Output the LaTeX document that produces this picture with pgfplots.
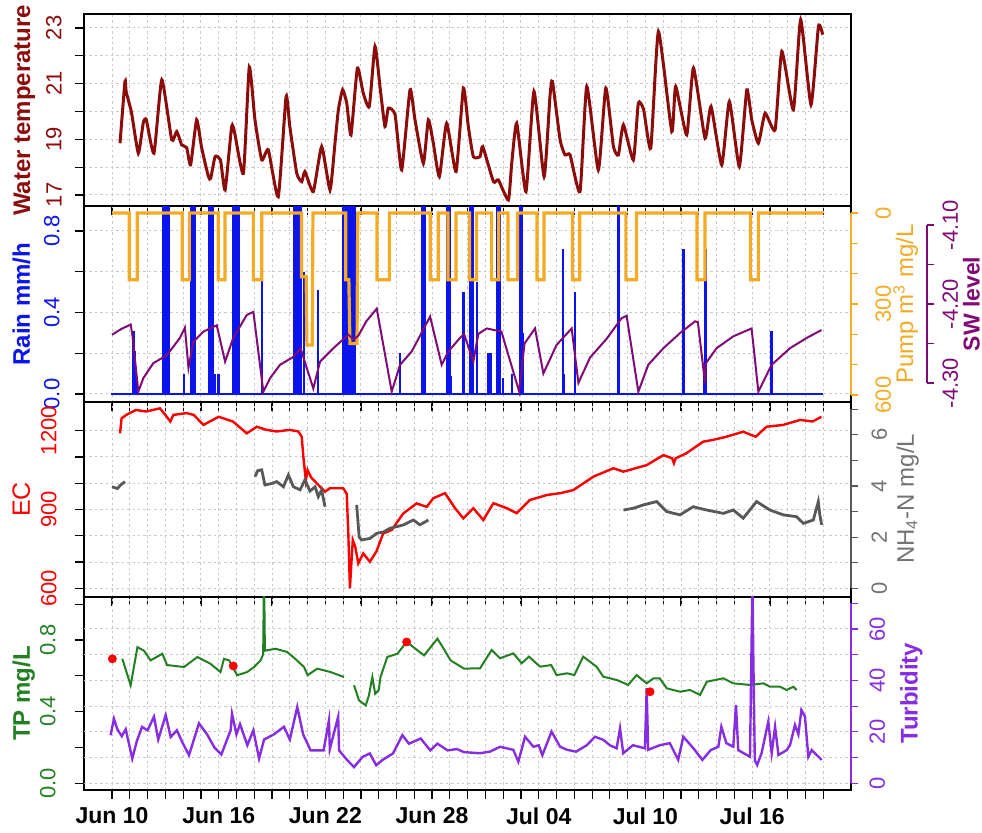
\documentclass[border=0pt]{standalone}
\usepackage{fontspec}
\setmainfont{Liberation Sans}
\usepackage{pgfplots}
\pgfplotsset{compat=1.18}
\usepackage{pgfplotstable}

\definecolor{tempc}{RGB}{140,12,12}
\definecolor{rainc}{RGB}{10,20,235}
\definecolor{pumpc}{RGB}{245,170,35}
\definecolor{swc}{RGB}{128,10,118}
\definecolor{ecc}{RGB}{250,0,0}
\definecolor{nhc}{RGB}{88,88,88}
\definecolor{nhlab}{RGB}{115,115,115}
\definecolor{tpc}{RGB}{34,128,34}
\definecolor{turbc}{RGB}{135,45,225}
\definecolor{gridc}{RGB}{200,200,200}

% x = days after 10 June
\pgfplotstableread{
day T
0.45 18.86
0.73 21.08
0.80 20.70
1.10 19.95
1.48 18.50
1.76 19.60
1.93 19.70
2.36 18.50
2.80 21.14
3.36 18.98
3.64 19.28
3.92 18.80
4.20 18.70
4.42 18.08
4.76 19.70
5.04 18.70
5.42 17.66
5.55 17.60
5.80 18.38
6.10 18.26
6.36 17.18
6.73 19.46
6.90 19.22
7.39 17.78
7.72 21.60
8.04 19.70
8.42 18.26
8.79 18.62
9.35 16.94
9.79 20.54
10.00 19.46
10.39 17.78
10.67 17.48
10.85 17.84
11.32 17.12
11.79 18.74
12.26 17.18
12.54 18.86
12.73 20.06
12.97 20.78
13.20 20.30
13.44 19.16
13.80 21.56
14.13 20.66
14.47 20.18
14.79 22.34
15.07 20.90
15.35 19.46
15.54 20.12
15.92 19.88
16.29 17.90
16.76 20.78
17.04 19.70
17.51 18.14
17.79 19.70
18.07 18.86
18.41 17.66
18.82 19.58
19.35 17.84
19.76 20.84
20.04 19.46
20.32 18.38
20.70 18.38
20.85 18.74
21.45 17.48
21.73 17.54
22.29 16.82
22.48 18.14
22.76 19.58
23.28 17.12
23.73 20.72
24.30 17.66
24.63 20.54
24.77 21.08
25.20 18.98
25.48 18.44
25.76 18.44
26.32 17.12
26.70 20.90
27.35 17.90
27.77 20.84
28.20 18.74
28.48 18.44
28.76 19.52
29.32 18.26
29.60 20.30
29.90 20.06
30.30 18.68
30.73 22.87
31.48 19.28
31.70 20.90
32.32 19.16
32.70 21.56
33.35 19.04
33.69 20.18
34.29 18.08
34.72 20.36
35.28 18.02
35.70 20.78
35.98 19.70
36.35 18.86
36.73 19.94
37.29 19.34
37.67 22.16
38.32 20.06
38.73 23.30
39.31 20.24
39.73 23.06
39.97 22.76
}\temptab

% hourly rain, mm/h (values above the panel are cut off)
\pgfplotstableread{
day R
1.17 0.30
1.24 0.31
1.31 0.21
1.38 0.08
2.90 1.2
2.97 1.2
3.04 1.2
3.11 1.2
3.18 1.2
4.06 0.10
4.47 1.2
4.54 1.2
4.61 1.2
4.68 1.2
5.44 1.2
5.51 1.2
5.58 1.2
5.65 1.2
5.79 0.10
5.98 0.10
6.84 1.2
6.91 1.2
6.98 1.2
7.05 1.2
7.12 1.2
8.42 0.56
10.22 1.2
10.29 1.2
10.36 1.2
10.43 1.2
10.50 1.2
10.57 1.2
10.64 1.2
10.80 0.60
11.59 0.51
13.00 1.2
13.07 1.2
13.14 1.2
13.21 1.2
13.28 1.2
13.35 1.2
13.42 1.2
13.49 1.2
13.56 1.2
13.63 1.2
16.20 0.20
17.42 1.2
17.50 1.2
17.58 1.2
18.84 1.2
18.91 1.2
18.98 1.2
19.08 0.09
19.76 0.50
20.14 1.2
20.21 1.2
20.28 1.2
20.51 0.55
21.15 0.20
21.22 0.20
21.30 0.20
21.66 1.2
21.74 1.2
21.81 1.2
21.99 0.08
22.48 0.10
22.96 1.2
23.03 1.2
23.10 0.30
25.37 0.71
25.42 0.10
26.04 0.50
28.48 1.2
32.13 0.71
33.30 0.10
33.37 0.71
37.10 0.31
}\raintab

% shallow water level
\pgfplotstableread{
day L
0.00 -4.239
0.50 -4.232
1.05 -4.226
1.15 -4.240
1.48 -4.311
1.76 -4.294
2.32 -4.275
3.08 -4.265
3.82 -4.243
4.10 -4.230
4.30 -4.281
4.57 -4.248
5.14 -4.235
5.89 -4.227
6.36 -4.273
6.82 -4.243
7.58 -4.214
7.95 -4.210
8.51 -4.311
8.89 -4.294
9.45 -4.277
10.20 -4.267
10.60 -4.256
11.32 -4.307
11.70 -4.273
12.45 -4.256
13.29 -4.239
13.60 -4.245
13.86 -4.240
14.30 -4.222
14.89 -4.206
15.73 -4.311
16.20 -4.277
16.86 -4.260
17.89 -4.216
18.54 -4.277
18.92 -4.260
19.57 -4.243
19.80 -4.238
20.32 -4.273
20.60 -4.238
21.07 -4.231
21.90 -4.235
22.90 -4.311
23.20 -4.250
23.79 -4.231
24.26 -4.288
25.00 -4.252
25.85 -4.231
26.23 -4.300
26.88 -4.268
27.82 -4.244
28.66 -4.218
28.94 -4.215
29.60 -4.311
30.16 -4.277
31.01 -4.256
31.94 -4.237
32.79 -4.222
32.95 -4.223
33.35 -4.300
33.40 -4.275
34.00 -4.256
34.94 -4.241
35.97 -4.231
36.35 -4.311
37.10 -4.277
38.13 -4.256
39.07 -4.243
39.90 -4.233
}\swtab

% electrical conductivity
\pgfplotstableread{
day EC
0.45 1190
0.54 1247
0.80 1260
1.35 1279
1.92 1273
2.70 1285
3.00 1260
3.28 1235
3.45 1260
4.20 1267
4.60 1260
5.14 1222
6.00 1253
6.80 1235
7.58 1190
8.14 1215
8.70 1203
9.26 1197
10.00 1203
10.48 1197
10.67 1177
10.76 1101
10.90 1012
11.00 1050
11.20 1022
11.70 987
11.98 968
12.26 981
13.00 981
13.20 960
13.29 809
13.38 600
13.54 784
13.68 758
13.85 695
14.13 733
14.50 701
14.87 740
15.25 809
15.73 822
16.38 885
17.13 923
17.70 910
18.07 943
18.73 962
19.29 905
19.76 866
20.32 905
20.88 860
21.45 924
22.20 905
22.76 886
23.50 936
24.45 955
25.20 962
25.95 974
27.07 1025
28.20 1057
28.76 1044
30.07 1069
31.01 1107
31.50 1095
31.60 1076
31.70 1095
32.30 1114
33.24 1158
33.80 1165
34.55 1177
35.50 1196
36.20 1177
36.81 1215
37.75 1222
38.70 1241
39.40 1235
39.90 1253
}\ectab

% ammonium, gaps between logger runs
\pgfplotstableread{
day N
0.00 3.97
0.30 3.90
0.50 4.05
0.73 4.17
0.80 nan
8.04 4.37
8.20 4.60
8.42 4.63
8.60 4.04
9.00 4.10
9.26 4.17
9.64 3.97
9.92 4.43
10.20 3.97
10.58 3.85
10.85 4.24
11.13 3.80
11.42 3.97
11.60 3.58
11.79 3.84
11.98 3.19
12.10 nan
13.76 3.26
13.90 2.00
14.04 1.89
14.51 1.95
14.89 2.15
15.26 2.20
15.64 2.35
16.01 2.41
16.39 2.48
16.95 2.67
17.32 2.48
17.79 2.67
17.90 nan
28.76 3.06
29.32 3.13
29.88 3.26
30.63 3.39
31.20 3.00
31.94 2.87
32.69 3.19
33.44 3.06
34.38 2.93
34.94 3.06
35.50 2.74
36.25 3.39
37.00 3.06
37.75 2.87
38.50 2.80
38.88 2.54
39.44 2.67
39.72 3.39
39.80 2.90
39.91 2.48
}\nhtab

% total phosphorus, sensor
\pgfplotstableread{
day TP
0.58 0.695
1.05 0.547
1.43 0.760
1.80 0.740
2.17 0.686
2.83 0.723
3.10 0.660
4.05 0.649
4.80 0.705
5.54 0.667
6.10 0.621
6.30 0.695
6.59 0.686
7.04 0.603
7.60 0.621
7.99 0.649
8.36 0.686
8.50 0.720
8.55 1.200
8.60 0.740
9.20 0.751
9.85 0.733
10.30 0.695
10.80 0.649
11.00 0.603
11.54 0.640
12.29 0.621
13.05 0.593
13.20 nan
13.61 0.547
13.89 0.463
14.27 0.435
14.45 0.491
14.64 0.593
14.80 0.500
15.00 0.520
15.10 0.593
15.48 0.705
16.05 0.723
16.57 0.789
17.55 0.714
18.30 0.807
18.60 0.760
19.04 0.686
19.80 0.640
20.70 0.642
21.35 0.744
21.82 0.698
22.57 0.725
23.04 0.670
23.45 0.707
24.07 0.651
24.70 0.660
25.00 0.604
25.60 0.614
26.00 0.604
26.50 0.707
27.25 0.651
27.63 0.595
28.38 0.577
29.03 0.549
29.50 0.604
30.07 0.558
30.45 0.586
30.80 0.586
31.20 0.530
31.95 0.511
32.50 0.521
33.07 0.493
33.45 0.567
34.38 0.586
34.94 0.558
35.88 0.549
36.63 0.558
37.00 0.539
37.57 0.539
37.94 0.521
38.32 0.539
38.50 0.521
}\tptab

% total phosphorus, grab samples
\pgfplotstableread{
day TP
0.02 0.695
6.82 0.655
16.57 0.789
30.26 0.511
}\labtab

% turbidity
\pgfplotstableread{
day Tu
-0.08 18.7
0.11 25.1
0.30 21.0
0.55 18.3
0.77 21.0
1.14 9.6
1.40 16.5
1.69 21.9
2.00 20.6
2.36 25.9
2.60 17.0
3.02 26.5
3.30 18.0
3.65 20.6
3.95 16.0
4.33 10.9
4.89 23.3
5.35 19.0
5.77 13.8
6.15 11.2
6.67 20.6
6.75 27.0
7.00 19.0
7.20 23.0
7.61 14.8
7.95 20.6
8.27 9.6
8.55 17.0
9.10 19.0
9.67 22.0
10.00 17.0
10.42 29.7
10.75 19.0
11.17 12.8
11.90 12.8
12.20 24.5
12.25 13.3
12.72 25.9
12.77 12.8
13.23 9.0
13.61 6.3
14.10 10.3
14.50 11.6
14.86 7.0
15.20 9.0
15.80 11.6
16.33 18.7
16.70 15.4
17.36 17.4
17.90 12.8
18.30 15.4
18.87 12.8
19.40 13.3
19.80 12.1
20.70 11.7
21.25 12.3
21.82 14.2
22.57 13.0
22.85 8.4
23.23 18.1
23.70 14.2
24.00 14.8
24.20 10.9
24.72 20.1
25.20 14.2
25.60 13.0
26.10 12.3
26.70 14.8
27.16 18.1
27.63 16.9
28.00 14.8
28.38 13.6
28.57 21.4
28.75 11.7
29.30 14.8
29.97 13.6
30.07 37.0
30.15 13.0
30.80 14.8
31.37 15.6
31.84 9.1
32.13 18.1
32.70 13.6
33.20 9.1
33.67 12.9
34.10 14.2
34.27 22.0
34.55 15.6
34.94 14.2
35.09 30.5
35.22 12.9
35.70 11.0
35.88 10.3
36.02 80.0
36.06 51.9
36.15 9.0
36.28 7.1
36.53 11.7
36.91 24.0
37.10 11.7
37.29 22.0
37.48 11.0
37.94 12.9
38.13 14.8
38.41 22.7
38.60 19.0
38.77 28.5
38.97 26.0
39.16 10.3
39.35 12.9
39.63 11.0
39.91 9.1
}\turbtab

\pgfplotsset{
  every axis/.append style={
    /pgf/number format/assume math mode=true,
    /pgf/number format/1000 sep={},
  },
  panel/.style={
    scale only axis, width=383.5pt,
    xmin=-1.575, xmax=41.56,
    axis line style={line width=1pt, black},
    tick align=outside,
    xtick pos=left, ytick pos=left,
    xtick={0,6,...,36}, minor xtick={0,1,...,40},
    xticklabels={},
    major tick length=4.5pt, minor tick length=4.5pt,
    tick style={line width=0.6pt, black},
    xmajorgrids, xminorgrids, ymajorgrids, yminorgrids,
    grid style={gridc, line width=0.5pt, dash pattern=on 1.2pt off 1.5pt},
    yticklabel style={rotate=90, anchor=south, inner sep=0pt,
      font=\fontsize{11}{11}\selectfont},
    every axis y label/.style={at={(axis description cs:-0.0704,0.5)},
      rotate=90, anchor=base, font=\bfseries\fontsize{12}{12}\selectfont},
    unbounded coords=jump,
  },
  overlay/.style={
    scale only axis, width=383.5pt,
    xmin=-1.575, xmax=41.56,
    hide axis, unbounded coords=jump,
  },
  ruler/.style={
    scale only axis, width=383.5pt,
    xmin=0, xmax=1,
    axis x line=none, axis y line*=right,
    tick align=outside,
    major tick length=3.5pt, minor tick length=3.5pt,
    yticklabel style={rotate=90, anchor=north, inner sep=0pt,
      font=\fontsize{11}{11}\selectfont},
    every axis y label/.style={rotate=90, anchor=north,
      font=\fontsize{12}{12}\selectfont},
  },
}

\begin{document}
\begin{tikzpicture}
\useasboundingbox (0,0) rectangle (491pt,416.5pt);

% ---------- water temperature ----------
\begin{axis}[panel, at={(42pt,313.25pt)}, anchor=south west, height=96.25pt,
  ymin=16.587, ymax=23.503,
  ytick={17,19,21,23}, minor ytick={18,20,22},
  yticklabel style={color=tempc}, yticklabel shift=6.5pt,
  ylabel={Water temperature}, ylabel style={color=tempc}]
\addplot[tempc, line width=1.5pt, smooth, tension=0.3] table[x=day, y=T] {\temptab};
\end{axis}

% ---------- rain, pump, shallow water level ----------
\begin{axis}[panel, at={(42pt,215.5pt)}, anchor=south west, height=97.75pt,
  ymin=-0.0393, ymax=0.9202,
  ytick={0,0.4,0.8}, minor ytick={0.2,0.6},
  yticklabel style={color=rainc, /pgf/number format/.cd, fixed, fixed zerofill, precision=1},
  yticklabel shift=7.5pt,
  ylabel={Rain mm/h}, ylabel style={color=rainc}]
\addplot[rainc, line width=1.2pt] coordinates {(-0.05,0) (40,0)};
\addplot[rainc, ycomb, line width=1.2pt] table[x=day, y=R] {\raintab};
\end{axis}

\begin{axis}[overlay, at={(42pt,215.5pt)}, anchor=south west, height=97.75pt,
  y dir=reverse, ymin=-21.4, ymax=623.1]
\addplot[pumpc, line width=1.6pt] coordinates {
  (0,0)
  (0.97,0)(0.97,220)(1.42,220)(1.42,0)
  (3.95,0)(3.95,220)(4.35,220)(4.35,0)
  (5.98,0)(5.98,220)(6.36,220)(6.36,0)
  (7.95,0)(7.95,220)(8.42,220)(8.42,0)
  (10.66,0)(10.66,210)(10.92,210)(10.96,435)(11.26,435)(11.30,0)
  (13.15,0)(13.15,220)(13.32,220)(13.38,430)(13.78,430)(13.82,0)
  (14.90,0)(14.90,220)(15.60,220)(15.60,0)
  (17.90,0)(17.90,220)(18.35,220)(18.35,0)
  (18.90,0)(18.90,220)(19.35,220)(19.35,0)
  (20.10,0)(20.10,220)(20.50,220)(20.50,0)
  (21.35,0)(21.35,220)(21.75,220)(21.75,0)
  (22.27,0)(22.27,220)(22.80,220)(22.80,0)
  (23.90,0)(23.90,220)(24.30,220)(24.30,0)
  (25.90,0)(25.90,220)(26.30,220)(26.30,0)
  (28.90,0)(28.90,220)(29.50,220)(29.50,0)
  (32.90,0)(32.90,220)(33.35,220)(33.35,0)
  (35.90,0)(35.90,220)(36.35,220)(36.35,0)
  (40,0)};
\end{axis}

\begin{axis}[overlay, at={(42pt,215.5pt)}, anchor=south west, height=97.75pt,
  ymin=-4.3241, ymax=-4.0766]
\addplot[swc, line width=1pt] table[x=day, y=L] {\swtab};
\end{axis}

\begin{axis}[ruler, at={(42pt,219pt)}, anchor=south west, height=91pt,
  ymin=0, ymax=600, y dir=reverse,
  ytick={0,300,600}, minor ytick={100,200,400,500},
  y axis line style={pumpc, line width=1pt}, tick style={pumpc, line width=0.6pt},
  yticklabel style={color=pumpc}, yticklabel shift=8.5pt,
  ylabel={Pump m\textsuperscript{3} mg/L},
  ylabel style={color=pumpc, at={(axis description cs:1.046,0.5)}}]
\end{axis}

\begin{axis}[ruler, at={(80pt,225pt)}, anchor=south west, height=79pt,
  ymin=-4.30, ymax=-4.10,
  ytick={-4.30,-4.20,-4.10}, minor ytick={-4.25,-4.15},
  y axis line style={swc, line width=0.8pt}, tick style={swc, line width=0.6pt},
  yticklabel style={color=swc, /pgf/number format/.cd, fixed, fixed zerofill, precision=2},
  yticklabel shift=4pt,
  ylabel={SW level},
  ylabel style={color=swc, font=\bfseries\fontsize{11.5}{11.5}\selectfont,
    at={(axis description cs:1.0375,0.5)}}]
\end{axis}

% ---------- EC and ammonium ----------
\begin{axis}[panel, at={(42pt,118pt)}, anchor=south west, height=97.5pt,
  ymin=566.9, ymax=1309.3,
  ytick={600,900,1200}, minor ytick={700,800,1000,1100},
  yticklabel style={color=ecc}, yticklabel shift=9pt,
  ylabel={EC}, ylabel style={color=ecc, font=\fontsize{12.5}{12.5}\selectfont}]
\addplot[ecc, line width=1.2pt] table[x=day, y=EC] {\ectab};
\end{axis}

\begin{axis}[overlay, at={(42pt,118pt)}, anchor=south west, height=97.5pt,
  ymin=-0.340, ymax=7.285]
\addplot[nhc, line width=1.4pt] table[x=day, y=N] {\nhtab};
\end{axis}

\begin{axis}[ruler, at={(42pt,122.35pt)}, anchor=south west, height=89.5pt,
  ymin=0, ymax=7,
  ytick={0,2,4,6}, minor ytick={1,3,5,7},
  y axis line style={nhc, line width=1pt}, tick style={nhc, line width=0.6pt},
  yticklabel style={color=nhlab}, yticklabel shift=6.5pt,
  ylabel={NH\textsubscript{4}-N mg/L},
  ylabel style={color=nhlab, at={(axis description cs:1.050,0.5)}}]
\end{axis}

% ---------- TP and turbidity ----------
\begin{axis}[panel, at={(42pt,21.5pt)}, anchor=south west, height=96.5pt,
  ymin=-0.0374, ymax=1.040,
  ymajorgrids=false, yminorgrids=false,
  ytick={0,0.4,0.8}, minor ytick={0.2,0.6,1.0},
  extra y ticks={0,0.1436,0.2871,0.4307,0.5742,0.7178,0.8613},
  extra y tick labels={},
  extra y tick style={ymajorgrids=true, major tick length=0pt},
  yticklabel style={color=tpc, /pgf/number format/.cd, fixed, fixed zerofill, precision=1},
  yticklabel shift=9.5pt,
  xticklabels={Jun 10,Jun 16,Jun 22,Jun 28,Jul 04,Jul 10,Jul 16},
  xticklabel style={font=\bfseries\fontsize{11.5}{11.5}\selectfont, anchor=north, inner sep=0pt},
  xticklabel shift=4pt,
  ylabel={TP mg/L}, ylabel style={color=tpc}]
\addplot[tpc, line width=1pt] table[x=day, y=TP] {\tptab};
\end{axis}

\begin{axis}[overlay, at={(42pt,21.5pt)}, anchor=south west, height=96.5pt,
  ymin=-2.606, ymax=72.45]
\addplot[turbc, line width=1.2pt] table[x=day, y=Tu] {\turbtab};
\end{axis}

\begin{axis}[overlay, at={(42pt,21.5pt)}, anchor=south west, height=96.5pt,
  ymin=-0.0374, ymax=1.040]
\addplot[only marks, mark=*, mark size=2pt, red] table[x=day, y=TP] {\labtab};
\end{axis}

\begin{axis}[ruler, at={(42pt,24.85pt)}, anchor=south west, height=90pt,
  ymin=0, ymax=70,
  ytick={0,20,40,60}, minor ytick={10,30,50,70},
  y axis line style={turbc, line width=1pt}, tick style={turbc, line width=0.6pt},
  yticklabel style={color=turbc}, yticklabel shift=5.5pt,
  ylabel={Turbidity},
  ylabel style={color=turbc, font=\bfseries\fontsize{12}{12}\selectfont,
    at={(axis description cs:1.055,0.5)}}]
\end{axis}

\end{tikzpicture}
\end{document}
